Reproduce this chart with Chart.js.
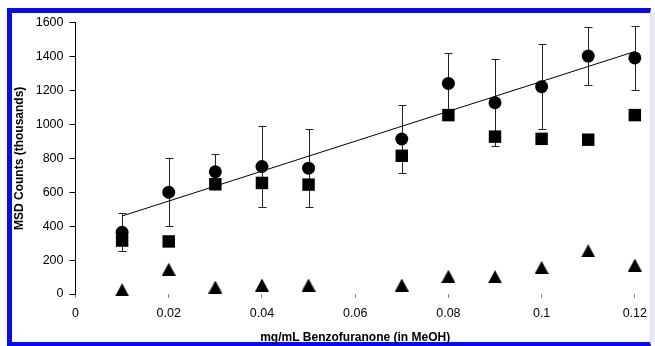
<!DOCTYPE html>
<html lang="en">
<head>
<meta charset="UTF-8">
<title>MSD Counts vs Benzofuranone</title>
<script src="https://cdn.jsdelivr.net/npm/chart.js"></script>
<style>
  html, body { margin: 0; padding: 0; background: #fff; }
  body { width: 655px; height: 346px; position: relative; overflow: hidden; }
  .frame {
    position: absolute; left: 7px; top: 8px; width: 644px; height: 338px; box-sizing: border-box;
    border-left: 5px solid #0a0af0; border-top: 5px solid #0a0af0; border-bottom: 4px solid #0a0af0;
    border-right: 1px solid #dcdcf2;
  }
  .edge { position: absolute; left: 651px; top: 13px; width: 4px; height: 329px; background: #e8e8f8; }
  #chart { position: absolute; left: 0; top: 0; }
</style>
</head>
<body>
<div class="frame"></div>
<div class="edge"></div>
<canvas id="chart" width="655" height="346"></canvas>

<script>
  // values
  const conc = [0.01, 0.02, 0.03, 0.04, 0.05, 0.07, 0.08, 0.09, 0.1, 0.11, 0.12];
  const circleCounts = [364, 600, 721, 752, 742, 914, 1242, 1128, 1223, 1403, 1392];
  const circleErr = [113, 200, 103, 240, 231, 203, 178, 257, 251, 169, 186];
  const squareCounts = [315, 310, 647, 655, 645, 815, 1055, 928, 915, 910, 1055];
  const triangleCounts = [25, 146, 41, 53, 53, 53, 105, 102, 157, 255, 171];
  const fitX = [0.01, 0.12];
  const fitY = [460, 1430];

  const xTickVals = [0, 0.02, 0.04, 0.06, 0.08, 0.1, 0.12];
  const xTickLabels = ['0', '0.02', '0.04', '0.06', '0.08', '0.1', '0.12'];
  const yTickVals = [0, 200, 400, 600, 800, 1000, 1200, 1400, 1600];
  const yTickLabels = ['0', '200', '400', '600', '800', '1000', '1200', '1400', '1600'];

  Chart.defaults.font.family = '"Liberation Sans", Arial, sans-serif';
  Chart.defaults.color = '#000';

  function pts(xs, ys) {
    return xs.map((v, i) => ({x: v, y: ys[i]}));
  }

  // triangle marker centred on its bounding box (like the original plot)
  function triangleMark(w, h) {
    const c = document.createElement('canvas');
    c.width = w; c.height = h;
    const g = c.getContext('2d');
    g.fillStyle = '#000';
    g.beginPath();
    g.moveTo(w / 2, 0);
    g.lineTo(w, h);
    g.lineTo(0, h);
    g.closePath();
    g.fill();
    return c;
  }

  const errorBars = {
    id: 'errorBars',
    beforeDatasetsDraw(chart) {
      const {ctx, scales: {x, y}} = chart;
      ctx.save();
      ctx.strokeStyle = '#222';
      ctx.lineWidth = 1;
      conc.forEach((c, i) => {
        const px = Math.round(x.getPixelForValue(c)) + 0.5;
        const top = Math.round(y.getPixelForValue(circleCounts[i] + circleErr[i])) + 0.5;
        const bot = Math.round(y.getPixelForValue(circleCounts[i] - circleErr[i])) + 0.5;
        ctx.beginPath();
        ctx.moveTo(px, top); ctx.lineTo(px, bot);
        ctx.moveTo(px - 4, top); ctx.lineTo(px + 4, top);
        ctx.moveTo(px - 4, bot); ctx.lineTo(px + 4, bot);
        ctx.stroke();
      });
      ctx.restore();
    }
  };

  const ctx = document.getElementById('chart').getContext('2d');
  new Chart(ctx, {
    type: 'scatter',
    data: {
      datasets: [
        {
          label: 'fit',
          data: pts(fitX, fitY),
          showLine: true,
          borderColor: '#000',
          borderWidth: 1,
          pointRadius: 0,
          clip: false
        },
        {
          label: 'circles',
          data: pts(conc, circleCounts),
          pointStyle: 'circle',
          pointRadius: 6.5,
          backgroundColor: '#000',
          borderWidth: 0,
          clip: false
        },
        {
          label: 'squares',
          data: pts(conc, squareCounts),
          pointStyle: 'rect',
          pointRadius: 8.8,
          backgroundColor: '#000',
          borderWidth: 0,
          clip: false
        },
        {
          label: 'triangles',
          data: pts(conc, triangleCounts),
          pointStyle: triangleMark(14, 13),
          clip: false
        }
      ]
    },
    options: {
      responsive: false,
      animation: false,
      layout: { padding: { left: 0, right: 13.5, top: 22.7, bottom: 0 } },
      plugins: {
        legend: { display: false },
        tooltip: { enabled: false }
      },
      scales: {
        x: {
          type: 'linear',
          min: 0,
          max: 0.12,
          afterBuildTicks: s => { s.ticks = xTickVals.map(v => ({value: v})); },
          afterFit: s => { s.height = 52; },
          ticks: {
            font: { size: 12.5 },
            padding: 8,
            callback: (v, i) => xTickLabels[i]
          },
          grid: { drawOnChartArea: false, drawTicks: true, tickLength: 4, color: '#888' },
          border: { display: false },
          title: {
            display: true,
            text: 'mg/mL Benzofuranone (in MeOH)',
            font: { size: 12, weight: 'bold' },
            padding: { top: 0, bottom: 1 }
          }
        },
        y: {
          min: 0,
          max: 1600,
          afterBuildTicks: s => { s.ticks = yTickVals.map(v => ({value: v})); },
          afterFit: s => { s.width = 75.5; },
          ticks: {
            font: { size: 12.5 },
            padding: 6,
            callback: (v, i) => yTickLabels[i]
          },
          grid: { drawOnChartArea: false, drawTicks: true, tickLength: 6, color: '#000' },
          border: { display: true, color: '#000', width: 1 },
          title: {
            display: true,
            text: 'MSD Counts (thousands)',
            font: { size: 12, weight: 'bold' },
            padding: { top: 12, bottom: 0 }
          }
        }
      }
    },
    plugins: [errorBars]
  });
</script>
</body>
</html>
